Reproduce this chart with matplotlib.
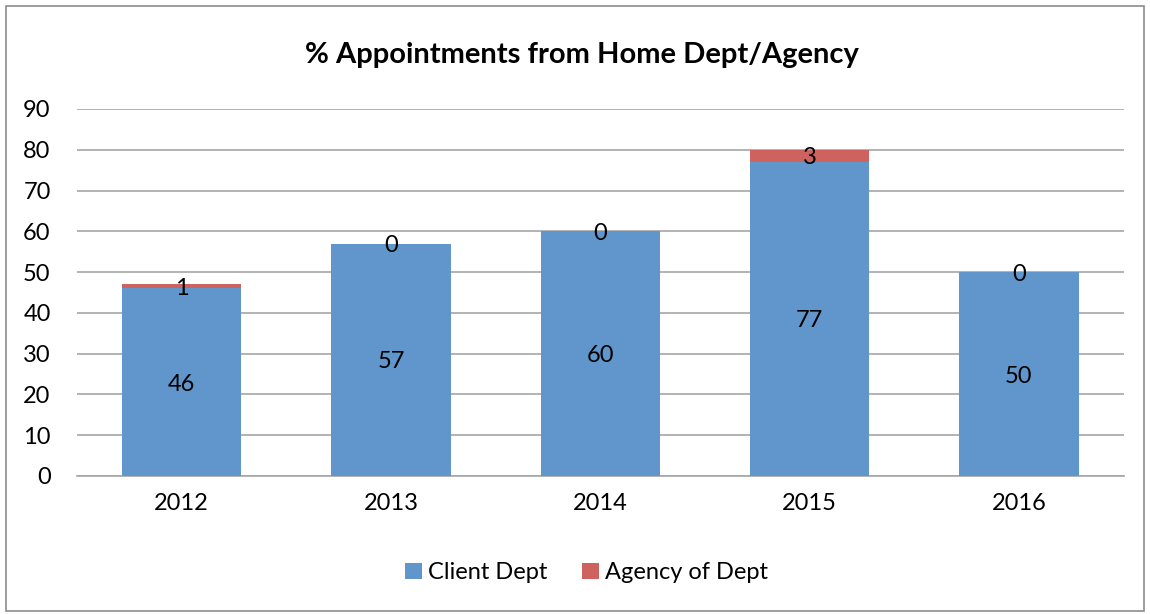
import matplotlib
matplotlib.use("Agg")
import matplotlib.pyplot as plt
from matplotlib.patches import Rectangle
import numpy as np

years = ["2012", "2013", "2014", "2015", "2016"]
client_dept = [46, 57, 60, 77, 50]
agency_dept = [1, 0, 0, 3, 0]
series_names = ["Client Dept", "Agency of Dept"]
title = "% Appointments from Home Dept/Agency"

plt.rcParams['font.family'] = ['Lato', 'DejaVu Sans']

blue = "#6096CB"
red = "#CE625F"

fig = plt.figure(figsize=(11.5, 6.14), dpi=100)
ax = fig.add_axes([0.067, 0.2248, 0.91, 0.5977])

x = np.arange(len(years))
w = 0.57
b1 = ax.bar(x, client_dept, w, color=blue, label=series_names[0], zorder=3)
b2 = ax.bar(x, agency_dept, w, bottom=client_dept, color=red, label=series_names[1], zorder=3)

for xi, c, a in zip(x, client_dept, agency_dept):
    ax.text(xi, c / 2, str(c), ha='center', va='center_baseline', fontsize=17, zorder=4)
    ax.text(xi, c + a / 2, str(a), ha='center', va='center_baseline', fontsize=17, zorder=4)

ax.set_xlim(-0.5, len(years) - 0.5)
ax.set_ylim(0, 90)
ax.set_yticks(range(0, 91, 10))
ax.set_xticks(x)
ax.set_xticklabels(years)
ax.tick_params(axis='both', length=0, labelsize=17)
ax.tick_params(axis='y', pad=19)
ax.tick_params(axis='x', pad=12)
ax.yaxis.grid(True, color="#A6A6A6", linewidth=1.2, zorder=0)
ax.set_axisbelow(True)
for s in ['top', 'right', 'left']:
    ax.spines[s].set_visible(False)
ax.spines['bottom'].set_color("#A6A6A6")
ax.spines['bottom'].set_linewidth(1.2)

fig.text(0.506, 0.91, title, ha='center', va='center', fontsize=21, fontweight='bold')

fig.legend(handles=[b1, b2], labels=series_names, loc='center', bbox_to_anchor=(0.51, 0.067),
           ncol=2, frameon=False, fontsize=17, handlelength=0.7, handleheight=0.7,
           handletextpad=0.25, columnspacing=1.5)

fig.patches.append(Rectangle((0.005, 0.005), 0.99, 0.985, transform=fig.transFigure,
                             fill=False, edgecolor="#8C8C8C", linewidth=1.2))

fig.savefig("out.png", dpi=100, facecolor='white')
